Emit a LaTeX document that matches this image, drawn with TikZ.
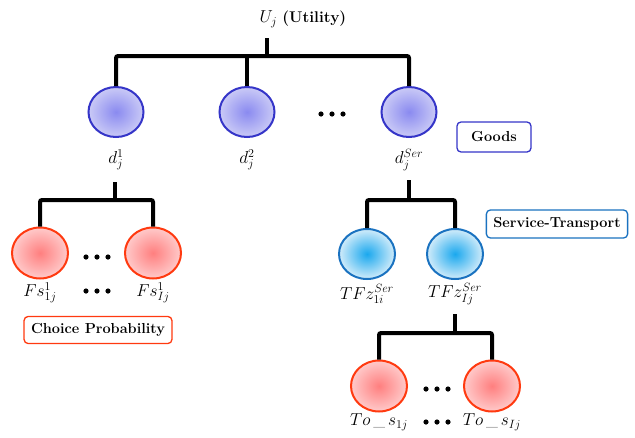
\documentclass[tikz,border=0pt]{standalone}
\usepackage{fontspec}
\usetikzlibrary{shapes.geometric}
\definecolor{gborder}{HTML}{3535C8}
\definecolor{gin}{HTML}{8A8AF0}
\definecolor{gout}{HTML}{CACAF6}
\definecolor{rborder}{HTML}{FF3A10}
\definecolor{rin}{HTML}{FF7F7F}
\definecolor{rout}{HTML}{FFCACA}
\definecolor{bborder}{HTML}{1A72C0}
\definecolor{bin}{HTML}{1AA8EE}
\definecolor{bout}{HTML}{D2ECFA}
\begin{document}
\begin{tikzpicture}[x=1pt,y=-1pt,
  good/.style={ellipse,draw=gborder,line width=2pt,minimum width=55pt,minimum height=50pt,inner color=gin,outer color=gout},
  red/.style={ellipse,draw=rborder,line width=2pt,minimum width=56pt,minimum height=51pt,inner color=rin,outer color=rout},
  blu/.style={ellipse,draw=bborder,line width=2pt,minimum width=56pt,minimum height=50pt,inner color=bin,outer color=bout},
  tree/.style={line width=4pt,rounded corners=2pt},
  lab/.style={font=\fontsize{17}{19}\selectfont,inner sep=1pt},
  tag/.style={draw,line width=1.3pt,rounded corners=4pt,fill=white,font=\fontsize{14.5}{16}\selectfont\bfseries,inner xsep=7pt,inner ysep=5pt},
  dots/.style={minimum width=30pt,minimum height=8pt,inner sep=0pt,
    path picture={\foreach \k in {-11,0,11}{\fill[black] ([xshift=\k pt]path picture bounding box.center) circle (2.6pt);}}}]
\useasboundingbox (0,0) rectangle (635,437);
% top
\node[lab] (U) at (303,19) {$U_j$ {\fontsize{15.5}{17}\selectfont\bfseries(Utility)}};
\node[good] (d1) at (116,112) {};
\node[good] (d2) at (247,112) {};
\node[good] (dS) at (409,112) {};
\node[dots] (dd) at (332,114) {};
\node[lab] (l1) at (116,160) {$d_j^1$};
\node[lab] (l2) at (247,160) {$d_j^2$};
\node[lab] (lS) at (409,160) {$d_j^{Ser}$};
\coordinate (Ub) at (267,56);
\draw[tree] (267,38) -- (Ub);
\draw[tree] (d1.north) -- (d1.north |- Ub) -- (dS.north |- Ub) -- (dS.north);
\draw[tree] (d2.north) -- (d2.north |- Ub);
\node[tag,draw=gborder,minimum width=74pt,minimum height=30pt] (goods) at (494,137) {Goods};
% left subtree
\node[red] (f1) at (40,253) {};
\node[red] (f2) at (153,253) {};
\node[dots] (fd) at (97,257) {};
\node[lab] (fl1) at (40,293) {$Fs^1_{1j}$};
\node[lab] (fl2) at (153,293) {$Fs^1_{Ij}$};
\node[dots] (fd2) at (97,291) {};
\coordinate (Fb) at (115,200);
\coordinate (Ft) at (115,182);
\draw[tree] (Ft) -- (Fb);
\draw[tree] (f1.north) -- (f1.north |- Fb) -- (f2.north |- Fb) -- (f2.north);
\node[tag,draw=rborder,minimum height=27pt] (cp) at (98,330) {Choice Probability};
% service subtree
\node[blu] (t1) at (367,254) {};
\node[blu] (t2) at (455,254) {};
\node[lab] (tl1) at (367,294) {$TFz^{Ser}_{1i}$};
\node[lab] (tl2) at (455,294) {$TFz^{Ser}_{Ij}$};
\coordinate (Tb) at (409,200);
\coordinate (Tt) at (409,180);
\draw[tree] (Tt) -- (Tb);
\draw[tree] (t1.north) -- (t1.north |- Tb) -- (t2.north |- Tb) -- (t2.north);
\node[tag,draw=bborder,minimum height=28pt] (st) at (557,224) {Service-Transport};
% bottom subtree
\node[red] (o1) at (379,386) {};
\node[red] (o2) at (492,386) {};
\node[dots] (od) at (437,389) {};
\node[lab] (ol1) at (379,422) {$To\,\_\,s_{1j}$};
\node[lab] (ol2) at (492,422) {$To\,\_\,s_{Ij}$};
\node[dots] (od2) at (437,422) {};
\coordinate (Ob) at (455,333);
\coordinate (Ot) at (455,314);
\draw[tree] (Ot) -- (Ob);
\draw[tree] (o1.north) -- (o1.north |- Ob) -- (o2.north |- Ob) -- (o2.north);
\end{tikzpicture}
\end{document}
